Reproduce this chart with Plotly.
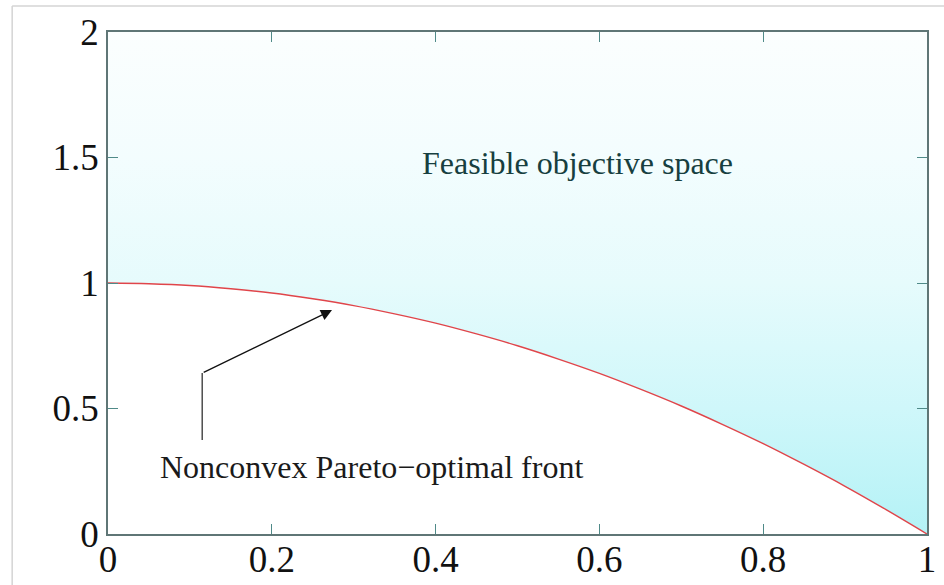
import plotly.graph_objects as go

# Pareto front
front_x = [0.0, 0.05, 0.1, 0.15, 0.2, 0.25, 0.3, 0.35, 0.4, 0.45, 0.5,
           0.55, 0.6, 0.65, 0.7, 0.75, 0.8, 0.85, 0.9, 0.95, 1.0]
front_y = [1.0, 0.997, 0.99, 0.977, 0.96, 0.937, 0.91, 0.877, 0.84, 0.797, 0.75,
           0.697, 0.64, 0.577, 0.51, 0.437, 0.36, 0.277, 0.19, 0.097, 0.0]
# upper bound of the feasible space
ceiling_x = [0.0, 1.0]
ceiling_y = [2.0, 2.0]

x_ticks = [0, 0.2, 0.4, 0.6, 0.8, 1]
x_tick_text = ["0", "0.2", "0.4", "0.6", "0.8", "1"]
y_ticks = [0, 0.5, 1, 1.5, 2]
y_tick_text = ["0", "0.5", "1", "1.5", "2"]

label_feasible = "Feasible objective space"
label_front = "Nonconvex Pareto\u2212optimal front"
feasible_pos = [0.573, 1.478]
front_label_pos = [0.322, 0.267]
arrow_path_x = [0.115, 0.115, 0.2735]
arrow_path_y = [0.375, 0.641, 0.892]

serif = "Liberation Serif, Times New Roman, serif"

fig = go.Figure()
fig.add_trace(go.Scatter(x=ceiling_x, y=ceiling_y, mode="lines",
                         line=dict(width=0), hoverinfo="skip", showlegend=False))
fig.add_trace(go.Scatter(
    x=front_x, y=front_y, mode="lines", line=dict(color="#e0454a", width=1.4, shape="spline"),
    fill="tonexty",
    fillgradient=dict(type="vertical", start=0, stop=2,
                      colorscale=[[0, "#b4f2f6"], [0.25, "#cff7fa"], [0.5, "#e6fbfc"],
                                  [0.75, "#f3fdfe"], [1, "#fbfefe"]]),
    showlegend=False, hoverinfo="skip"))

# arrow: vertical leg then arrow to the front
fig.add_shape(type="line", xref="x", yref="y",
              x0=arrow_path_x[0], y0=arrow_path_y[0], x1=arrow_path_x[1], y1=arrow_path_y[1],
              line=dict(color="#333333", width=1.3))
fig.add_annotation(x=arrow_path_x[2], y=arrow_path_y[2], ax=arrow_path_x[1], ay=arrow_path_y[1],
                   xref="x", yref="y", axref="x", ayref="y", text="", showarrow=True,
                   arrowhead=2, arrowsize=1.7, arrowwidth=1.3, arrowcolor="#111111")

fig.add_annotation(x=feasible_pos[0], y=feasible_pos[1], xref="x", yref="y",
                   text=label_feasible, showarrow=False,
                   font=dict(family=serif, size=32, color="#173f40"))
fig.add_annotation(x=front_label_pos[0], y=front_label_pos[1], xref="x", yref="y",
                   text=label_front, showarrow=False,
                   font=dict(family=serif, size=32, color="#1a1a1a"))

# light outer frame of the screenshot
fig.add_shape(type="line", xref="paper", yref="paper", x0=-0.117, x1=1.05, y0=1.052, y1=1.052,
              line=dict(color="#d4d4d4", width=1.5))
fig.add_shape(type="line", xref="paper", yref="paper", x0=-0.117, x1=-0.117, y0=-0.2, y1=1.052,
              line=dict(color="#d4d4d4", width=1.5))

axis_common = dict(showgrid=False, zeroline=False, showline=True, linecolor="#5f7676",
                   linewidth=1.5, mirror="ticks", ticks="inside", ticklen=10,
                   tickcolor="#4f8a88", tickwidth=1.3, automargin=False,
                   tickfont=dict(family=serif, size=37, color="#111111"))
fig.update_xaxes(range=[0, 1], tickvals=x_ticks, ticktext=x_tick_text,
                 ticklabelstandoff=-8, **axis_common)
fig.update_yaxes(range=[0, 2], tickvals=y_ticks, ticktext=y_tick_text, **axis_common)

fig.update_layout(width=944, height=585, margin=dict(l=108, r=17, t=32, b=51),
                  paper_bgcolor="white", plot_bgcolor="white")
fig.write_html("out.html", config={"displayModeBar": False},
               post_script="document.body.style.margin='0px';")
